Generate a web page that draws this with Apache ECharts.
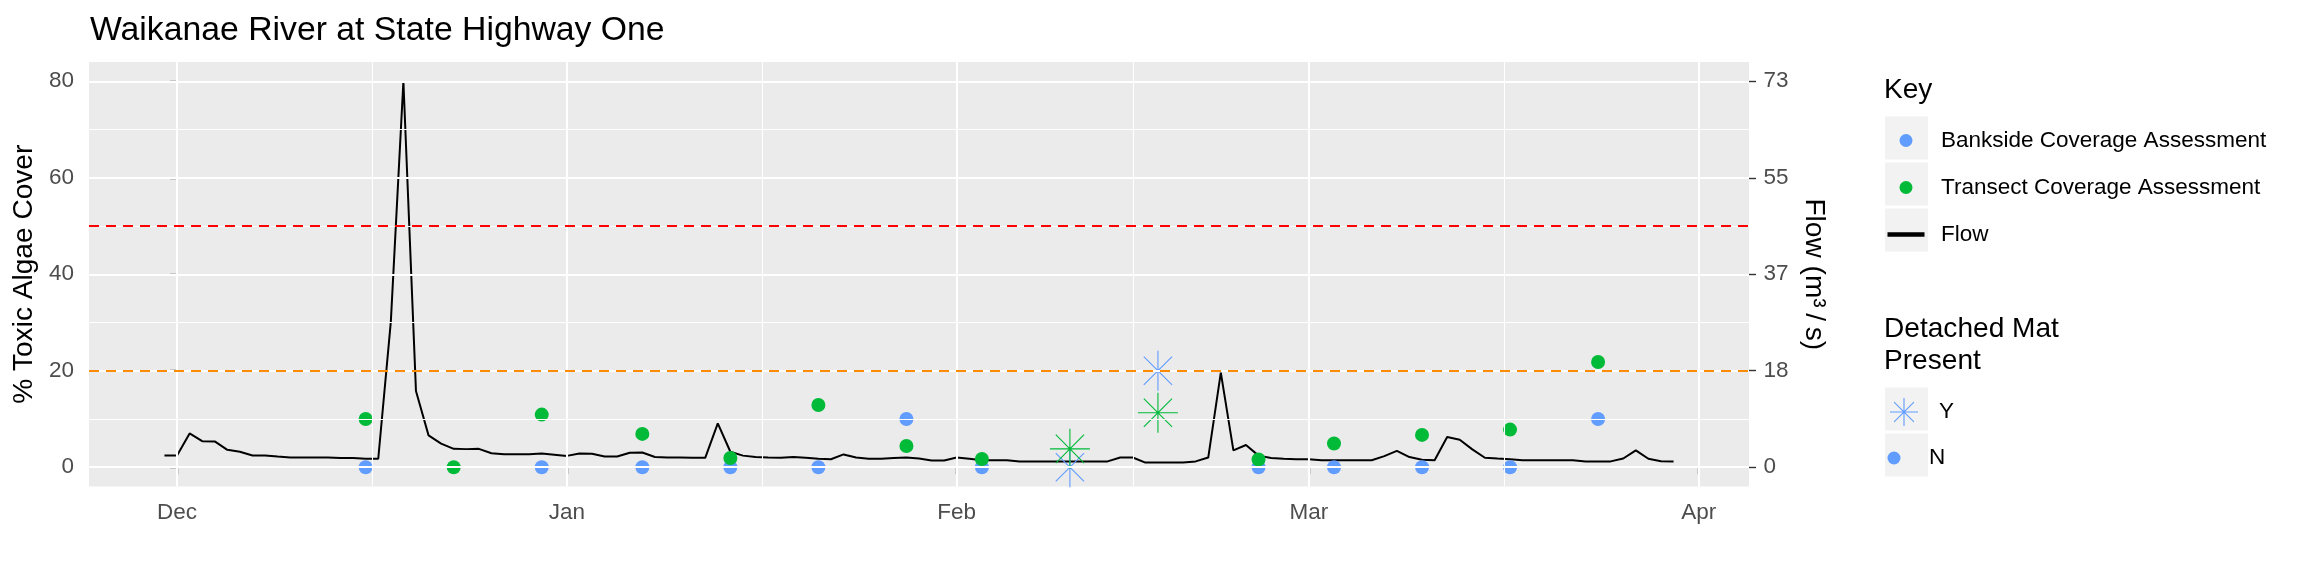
<!DOCTYPE html>
<html>
<head>
<meta charset="utf-8">
<script src="https://cdn.jsdelivr.net/npm/echarts@6/dist/echarts.min.js"></script>
<style>
html,body{margin:0;padding:0;background:#ffffff;}
#chart{width:2304px;height:576px;}
</style>
</head>
<body>
<div id="chart"></div>
<script>
// ---------------- data ----------------
const chartTitle = 'Waikanae River at State Highway One';
const leftAxisTitle = '% Toxic Algae Cover';
const rightAxisTitle = 'Flow (m\u00B3\u2009/\u2009s)';

const monthTickDates = ['2022-12-01', '2023-01-01', '2023-02-01', '2023-03-01', '2023-04-01'];
const monthTickLabels = ['Dec', 'Jan', 'Feb', 'Mar', 'Apr'];
const coverTicks = [0, 20, 40, 60, 80];
const flowTickLabels = ['0', '18', '37', '55', '73'];

// daily flow (m3/s) starting at flowStartDate
const flowStartDate = '2022-11-30';
const flowValues = [
  2.22, 2.22, 6.39, 4.93, 4.88, 3.29, 2.92, 2.22, 2.22, 2.01,
  1.83, 1.83, 1.83, 1.83, 1.73, 1.73, 1.60, 1.60, 27.5, 73.0,
  14.4, 6.02, 4.47, 3.47, 3.42, 3.47, 2.65, 2.46, 2.46, 2.46,
  2.60, 2.37, 2.14, 2.60, 2.56, 2.01, 2.01, 2.74, 2.78, 1.92,
  1.83, 1.83, 1.78, 1.78, 8.30, 2.92, 2.19, 1.92, 1.83, 1.78,
  1.92, 1.78, 1.60, 1.51, 2.42, 1.83, 1.60, 1.60, 1.73, 1.83,
  1.64, 1.28, 1.28, 1.83, 1.60, 1.32, 1.32, 1.32, 1.10, 1.10,
  1.10, 1.10, 1.10, 1.10, 1.10, 1.10, 1.83, 1.83, 0.87, 0.87,
  0.87, 0.87, 1.10, 1.83, 17.9, 3.19, 4.20, 2.19, 1.73, 1.60,
  1.51, 1.51, 1.32, 1.32, 1.32, 1.32, 1.32, 2.10, 3.10, 1.92,
  1.41, 1.32, 5.70, 5.20, 3.38, 1.78, 1.64, 1.51, 1.32, 1.32,
  1.32, 1.32, 1.32, 1.10, 1.10, 1.10, 1.64, 3.19, 1.60, 1.14,
  1.10
];

const sampleDates = ['2022-12-16', '2022-12-23', '2022-12-30', '2023-01-07', '2023-01-14',
  '2023-01-21', '2023-01-28', '2023-02-03', '2023-02-10', '2023-02-17',
  '2023-02-25', '2023-03-03', '2023-03-10', '2023-03-17', '2023-03-24'];
const banksideCover = [0, null, 0, 0, 0, 0, 10, 0, 0, 20, 0, 0, 0, 0, 10];
const transectCover = [10, 0, 10.9, 6.9, 1.9, 12.9, 4.4, 1.7, 3.8, 11.3, 1.6, 4.9, 6.7, 7.8, 21.8];
const detachedMat = ['N', 'N', 'N', 'N', 'N', 'N', 'N', 'N', 'Y', 'Y', 'N', 'N', 'N', 'N', 'N'];

const thresholdValues = [50, 20];
const thresholdColors = ['#FF0000', '#FF8C00'];

// ---------------- helpers ----------------
const FONT = '"Liberation Sans", Arial, sans-serif';
const BLUE = '#619CFF';
const GREEN = '#00BA38';
const DAY = 86400000;
const ORIGIN = Date.UTC(2022, 11, 1);
function dayOf(s) {
  const p = s.split('-').map(Number);
  return (Date.UTC(p[0], p[1] - 1, p[2]) - ORIGIN) / DAY;
}
const flowStart = dayOf(flowStartDate);
const flowData = flowValues.map((v, i) => [flowStart + i, v]);
const xTicks = monthTickDates.map(dayOf);
const xMinor = xTicks.slice(1).map((t, i) => (t + xTicks[i]) / 2);
const yMinor = coverTicks.slice(1).map((t, i) => (t + coverTicks[i]) / 2);

const xLo = flowStart, xHi = flowStart + flowValues.length - 1;
const xPad = (xHi - xLo) * 0.05;
const yLo = 0, yHi = 80, yPad = (yHi - yLo) * 0.05;
const flowScale = Math.max.apply(null, flowValues) / yHi;
const flowTicks = coverTicks.map(v => v * flowScale);

function points(values, flag) {
  const out = [];
  sampleDates.forEach((d, i) => {
    if (values[i] != null && detachedMat[i] === flag) out.push([dayOf(d), values[i]]);
  });
  return out;
}

const STAR = 'path://M0,-14.142L0,14.142M-14.142,0L14.142,0M-10,-10L10,10M-10,10L10,-10';
const LINE_ICON = 'path://M0,0L37,0L37,4.6L0,4.6Z';

const tickStyle = { show: true, length: 7, lineStyle: { color: '#333333', width: 1.4 } };
const labelStyle = { fontSize: 22.5, color: '#4D4D4D', fontFamily: FONT };
const legendText = { fontSize: 22.5, color: '#000', fontFamily: FONT, lineHeight: 22, padding: [0, 0, 0, 11.5] };

const chart = echarts.init(document.getElementById('chart'), null, { renderer: 'canvas' });

const option = {
  animation: false,
  backgroundColor: '#ffffff',
  title: [
    { text: chartTitle, left: 90, top: 14, padding: 0,
      textStyle: { fontSize: 33.75, fontWeight: 'normal', color: '#000', fontFamily: FONT, lineHeight: 34 } },
    { text: 'Key', left: 1884, top: 74, padding: 0,
      textStyle: { fontSize: 28.1, fontWeight: 'normal', color: '#000', fontFamily: FONT, lineHeight: 32 } },
    { text: 'Detached Mat\nPresent', left: 1884, top: 313, padding: 0,
      textStyle: { fontSize: 28.1, fontWeight: 'normal', color: '#000', fontFamily: FONT, lineHeight: 32 } }
  ],
  grid: {
    left: 89, right: 555, top: 62, bottom: 89.5,
    show: true, backgroundColor: '#EBEBEB', borderWidth: 0,
    containLabel: false, outerBoundsMode: 'none'
  },
  graphic: [116.5, 162.5, 208.5, 387.5, 433.5].map(t => ({
    type: 'rect', z: 0, silent: true,
    shape: { x: 1885, y: t, width: 43, height: 43 },
    style: { fill: '#F2F2F2' }
  })),
  legend: [
    {
      data: ['Bankside Coverage Assessment', 'Transect Coverage Assessment',
        { name: 'Flow', icon: LINE_ICON }],
      orient: 'vertical', left: 1887.5, top: 129, padding: 0, itemGap: 24,
      itemWidth: 37, itemHeight: 13, selectedMode: false,
      textStyle: legendText
    },
    {
      data: ['Y'],
      orient: 'vertical', left: 1887.5, top: 395.5, padding: 0,
      itemWidth: 37, itemHeight: 28, selectedMode: false,
      itemStyle: { borderWidth: 1.1 },
      textStyle: legendText
    },
    {
      data: ['N'],
      orient: 'vertical', left: 1887.5, top: 446.5, padding: 0,
      itemWidth: 37, itemHeight: 13, selectedMode: false,
      textStyle: legendText
    }
  ],
  xAxis: {
    type: 'value', min: xLo - xPad, max: xHi + xPad,
    axisLine: { show: false },
    axisTick: Object.assign({ customValues: xTicks }, tickStyle),
    axisLabel: Object.assign({
      customValues: xTicks, margin: 15,
      formatter: v => { const i = xTicks.findIndex(t => Math.abs(t - v) < 1e-6); return i >= 0 ? monthTickLabels[i] : ''; }
    }, labelStyle),
    splitLine: { show: false }
  },
  yAxis: [
    {
      type: 'value', position: 'left', min: yLo - yPad, max: yHi + yPad,
      name: leftAxisTitle, nameLocation: 'middle', nameGap: 44,
      nameTextStyle: { fontSize: 28.1, color: '#000', fontFamily: FONT },
      axisLine: { show: false },
      axisTick: Object.assign({ customValues: coverTicks }, tickStyle),
      axisLabel: Object.assign({ customValues: coverTicks, margin: 15 }, labelStyle),
      splitLine: { show: false }
    },
    {
      type: 'value', position: 'right', min: (yLo - yPad) * flowScale, max: (yHi + yPad) * flowScale,
      name: rightAxisTitle, nameLocation: 'middle', nameRotate: -90, nameGap: 48,
      nameTextStyle: { fontSize: 28.1, color: '#000', fontFamily: FONT },
      axisLine: { show: false },
      axisTick: Object.assign({ customValues: flowTicks }, tickStyle),
      axisLabel: Object.assign({
        customValues: flowTicks, margin: 14.5,
        formatter: v => { const i = flowTicks.findIndex(t => Math.abs(t - v) < 1e-6); return i >= 0 ? flowTickLabels[i] : ''; }
      }, labelStyle),
      splitLine: { show: false }
    }
  ],
  series: [
    {
      name: '_gridMinor', type: 'line', data: [], z: 1, silent: true,
      markLine: {
        silent: true, symbol: 'none', label: { show: false }, animation: false,
        lineStyle: { color: '#FFFFFF', width: 1.1, type: 'solid' },
        data: xMinor.map(v => ({ xAxis: v })).concat(yMinor.map(v => ({ yAxis: v })))
      }
    },
    {
      name: '_gridMajor', type: 'line', data: [], z: 1, silent: true,
      markLine: {
        silent: true, symbol: 'none', label: { show: false }, animation: false,
        lineStyle: { color: '#FFFFFF', width: 2.1, type: 'solid' },
        data: xTicks.map(v => ({ xAxis: v })).concat(coverTicks.map(v => ({ yAxis: v })))
      }
    },
    {
      name: '_thresholds', type: 'line', data: [], z: 2, silent: true,
      markLine: {
        silent: true, symbol: 'none', label: { show: false }, animation: false,
        data: thresholdValues.map((v, i) => ({
          yAxis: v, lineStyle: { color: thresholdColors[i], width: 2, type: [10, 7] }
        }))
      }
    },
    {
      name: 'Flow', type: 'line', yAxisIndex: 1, data: flowData, symbol: 'none',
      lineStyle: { color: '#000000', width: 2 }, itemStyle: { color: '#000000' }, z: 3
    },
    {
      name: 'Bankside Coverage Assessment', type: 'scatter', data: points(banksideCover, 'N'),
      symbol: 'circle', symbolSize: 14, itemStyle: { color: BLUE, opacity: 1 }, z: 4
    },
    {
      name: 'Transect Coverage Assessment', type: 'scatter', data: points(transectCover, 'N'),
      symbol: 'circle', symbolSize: 14, itemStyle: { color: GREEN, opacity: 1 }, z: 4
    },
    {
      name: 'Y', type: 'scatter', data: points(banksideCover, 'Y'),
      symbol: STAR, symbolSize: 40, symbolKeepAspect: true,
      itemStyle: { color: 'none', borderColor: BLUE, borderWidth: 1.1, opacity: 1 }, z: 4
    },
    {
      name: 'Y', type: 'scatter', data: points(transectCover, 'Y'),
      symbol: STAR, symbolSize: 40, symbolKeepAspect: true,
      itemStyle: { color: 'none', borderColor: GREEN, borderWidth: 1.1, opacity: 1 }, z: 4
    },
    {
      name: 'N', type: 'scatter', data: [],
      symbol: 'circle', symbolSize: 14, itemStyle: { color: BLUE, opacity: 1 }, z: 4
    }
  ]
};
chart.setOption(option);
</script>
</body>
</html>
